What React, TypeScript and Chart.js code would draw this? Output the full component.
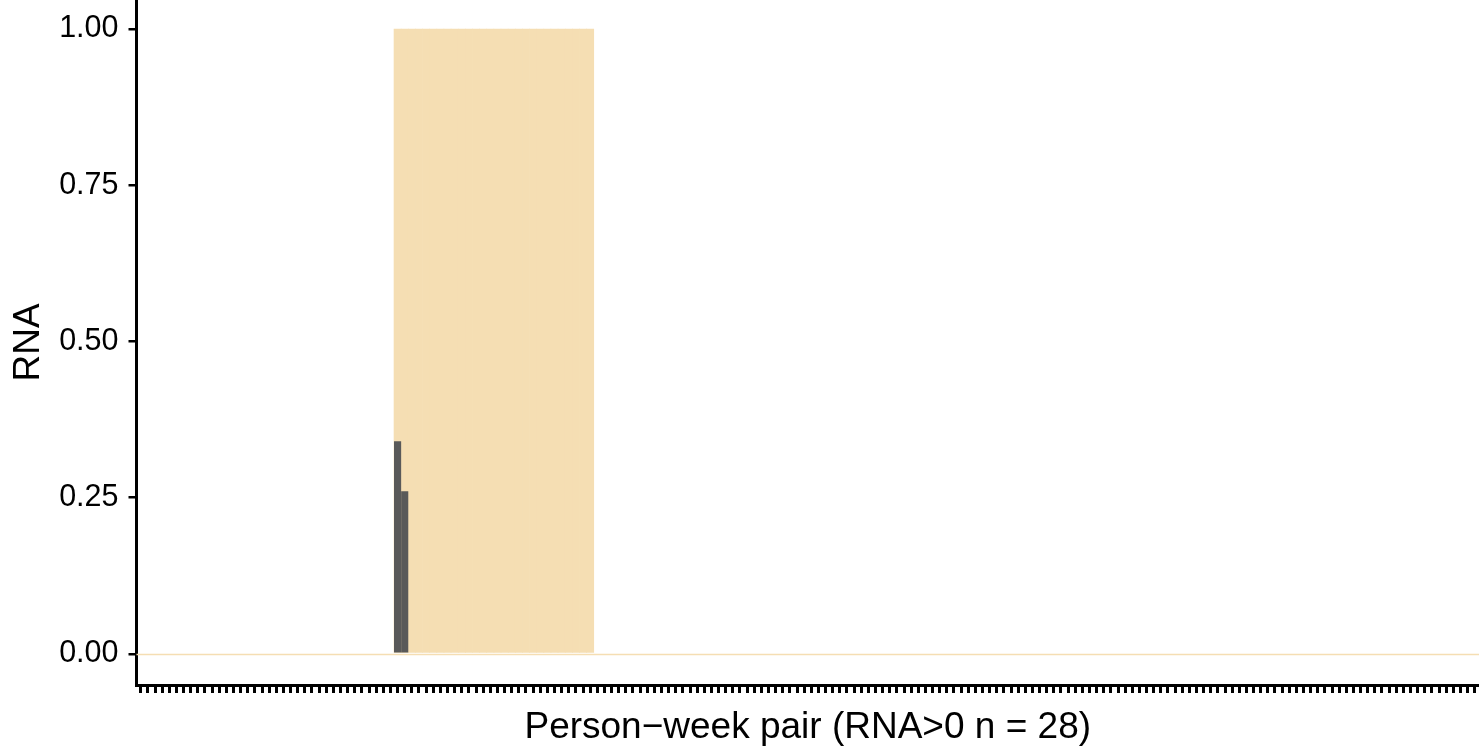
import React, { useEffect, useRef } from "react";
import { Chart, registerables } from "chart.js";

Chart.register(...registerables);

// ---- data ----
const pairCount = 188; // number of person-week pairs on the x axis
const rnaPositiveStart = 37; // position of the first pair with RNA>0
const rnaPositiveValues = [
  0.34, 0.26, 0, 0, 0, 0, 0, 0, 0, 0, 0, 0, 0, 0,
  0, 0, 0, 0, 0, 0, 0, 0, 0, 0, 0, 0, 0, 0,
]; // 28 pairs with RNA>0
const bandValue = 1; // highlight band height for RNA>0 pairs
const baselineValue = 0;
const yTickValues = [0, 0.25, 0.5, 0.75, 1];
const xTitle = "Person\u2212week pair (RNA>0 n = 28)";
const yTitle = "RNA";

const WHEAT = "#F5DEB3";
const BAR_GREY = "#595959";
const FONT = "'Liberation Sans', Arial, Helvetica, sans-serif";

const baselinePlugin = {
  id: "baseline",
  beforeDatasetsDraw(chart: any) {
    const { ctx, chartArea, scales } = chart;
    const y = Math.round(scales.y.getPixelForValue(baselineValue)) + 0.5;
    ctx.save();
    ctx.strokeStyle = WHEAT;
    ctx.lineWidth = 1.5;
    ctx.beginPath();
    ctx.moveTo(chartArea.left, y);
    ctx.lineTo(chartArea.right, y);
    ctx.stroke();
    ctx.restore();
  },
};

export default function App() {
  const canvasRef = useRef<HTMLCanvasElement | null>(null);

  useEffect(() => {
    document.body.style.margin = "0";
    const canvas = canvasRef.current;
    if (!canvas) return;

    const rnaPoints = rnaPositiveValues.map((v, i) => ({ x: rnaPositiveStart + i, y: v }));
    const bandPoints = rnaPositiveValues.map((_, i) => ({ x: rnaPositiveStart + i, y: bandValue }));

    const chart = new Chart(canvas, {
      type: "bar",
      data: {
        datasets: [
          {
            label: "RNA",
            data: rnaPoints,
            backgroundColor: BAR_GREY,
            borderWidth: 0,
            barPercentage: 1,
            categoryPercentage: 1,
            grouped: false,
            inflateAmount: 0,
            order: 0,
          } as any,
          {
            label: "RNA>0",
            data: bandPoints,
            backgroundColor: WHEAT,
            borderWidth: 0,
            barPercentage: 1,
            categoryPercentage: 1,
            grouped: false,
            order: 1,
          } as any,
        ],
      },
      plugins: [baselinePlugin],
      options: {
        animation: false,
        responsive: false,
        devicePixelRatio: 1,
        layout: { padding: 0 },
        plugins: {
          legend: { display: false },
          tooltip: { enabled: false },
        },
        scales: {
          x: {
            type: "linear",
            offset: false,
            min: 0.4,
            max: pairCount + 0.6,
            afterFit: (scale: any) => {
              scale.height = 68;
              scale.paddingLeft = 0;
              scale.paddingRight = 0;
            },
            ticks: {
              display: false,
              stepSize: 1,
              autoSkip: false,
              includeBounds: false,
            },
            grid: {
              offset: false,
              drawOnChartArea: false,
              drawTicks: true,
              tickLength: 8,
              color: "#000000",
              lineWidth: 3,
            },
            border: { display: true, color: "#000000", width: 3 },
            title: {
              display: true,
              text: xTitle,
              color: "#000000",
              font: { family: FONT, size: 37 },
              padding: { top: 0, bottom: 3 },
            },
          },
          y: {
            type: "linear",
            min: -0.05,
            max: 1.0464,
            afterFit: (scale: any) => {
              scale.width = 136.5;
              scale.paddingTop = 0;
              scale.paddingBottom = 0;
            },
            afterBuildTicks: (scale: any) => {
              scale.ticks = yTickValues.map((v) => ({ value: v }));
            },
            ticks: {
              color: "#000000",
              font: { family: FONT, size: 30.5 },
              padding: 10,
              includeBounds: false,
              callback: (v: any) => Number(v).toFixed(2),
            },
            grid: {
              drawOnChartArea: false,
              drawTicks: true,
              tickLength: 8,
              color: "#000000",
              lineWidth: 2.5,
            },
            border: { display: true, color: "#000000", width: 3 },
            title: {
              display: true,
              text: yTitle,
              color: "#000000",
              font: { family: FONT, size: 37 },
              padding: { top: 7, bottom: 0 },
            },
          },
        },
      },
    });

    return () => chart.destroy();
  }, []);

  return (
    <div style={{ position: "absolute", left: 0, top: 0, width: 1479, height: 753, background: "#ffffff" }}>
      <canvas ref={canvasRef} width={1479} height={753} style={{ width: 1479, height: 753, display: "block" }} />
    </div>
  );
}
